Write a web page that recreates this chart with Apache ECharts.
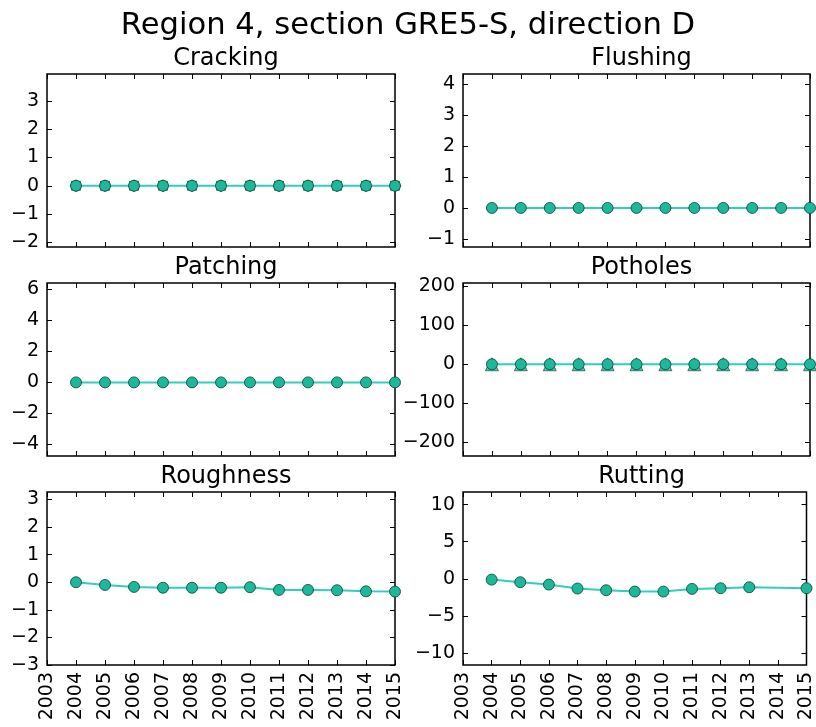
<!DOCTYPE html>
<html><head><meta charset="utf-8">
<script src="https://cdn.jsdelivr.net/npm/echarts@6/dist/echarts.min.js"></script>
<style>html,body{margin:0;padding:0;background:#fff}#c{width:816px;height:727px}</style>
</head><body><div id="c"></div>
<script>
// ---- data ----
const years = [2004, 2005, 2006, 2007, 2008, 2009, 2010, 2011, 2012, 2013, 2014, 2015];
const cracking = [0, 0, 0, 0, 0, 0, 0, 0, 0, 0, 0, 0];
const flushing = [0, 0, 0, 0, 0, 0, 0, 0, 0, 0, 0, 0];
const patching = [0, 0, 0, 0, 0, 0, 0, 0, 0, 0, 0, 0];
const potholes = [0, 0, 0, 0, 0, 0, 0, 0, 0, 0, 0, 0];
const roughness = [0, -0.1, -0.17, -0.2, -0.2, -0.2, -0.18, -0.28, -0.28, -0.29, -0.33, -0.34];
const rutting = [-0.1, -0.45, -0.77, -1.3, -1.53, -1.71, -1.71, -1.35, -1.26, -1.13, null, -1.26];
const panelTitles = ['Cracking', 'Flushing', 'Patching', 'Potholes', 'Roughness', 'Rutting'];
const mainTitle = 'Region 4, section GRE5-S, direction D';
const yMin = [-2.17, -1.26, -4.74, -236, -3, -11.6];
const yMax = [3.96, 4.32, 6.4, 209, 3.27, 11.7];
const yTicks = [
  [-2, -1, 0, 1, 2, 3],
  [-1, 0, 1, 2, 3, 4],
  [-4, -2, 0, 2, 4, 6],
  [-200, -100, 0, 100, 200],
  [-3, -2, -1, 0, 1, 2, 3],
  [-10, -5, 0, 5, 10]
];
const xTicks = [2003, 2004, 2005, 2006, 2007, 2008, 2009, 2010, 2011, 2012, 2013, 2014, 2015];

// ---- layout ----
const colLeft = [47, 463];
const colWidth = [348, 347];
const rowTop = [74, 283, 492];
const rowHeight = 173;
const FONT = 'DejaVu Sans';

const panelData = [cracking, flushing, patching, potholes, roughness, rutting];
const extraShapes = [['rect', 'diamond'], [], [], ['triangle'], [], []];

const grids = [], xAxes = [], yAxes = [], series = [], titles = [];
titles.push({ text: mainTitle, left: 'center', top: 6,
  textStyle: { fontFamily: FONT, fontSize: 30.6, fontWeight: 'normal', color: '#000' } });

const lineColor = '#33cdbb', fill = '#1cb89a', edge = '#0e3f35';
const fmtY = v => (v < 0 ? '\u2212' + String(-v) : String(v));
const tickStyle = { color: '#000', width: 1 };
for (let i = 0; i < 6; i++) {
  const r = Math.floor(i / 2), c = i % 2;
  grids.push({ left: colLeft[c], top: rowTop[r], width: colWidth[c], height: rowHeight,
    show: true, borderColor: '#000', borderWidth: 1.5, backgroundColor: 'transparent' });
  titles.push({ text: panelTitles[i], left: colLeft[c] + colWidth[c] / 2, textAlign: 'center',
    top: rowTop[r] - 32,
    textStyle: { fontFamily: FONT, fontSize: 24, fontWeight: 'normal', color: '#000' } });
  const bottomRow = r === 2;
  ['bottom', 'top'].forEach(pos => {
    xAxes.push({ type: 'value', gridIndex: i, min: xTicks[0], max: xTicks[xTicks.length - 1],
      position: pos, splitLine: { show: false }, axisLine: { show: false, onZero: false },
      axisTick: { show: true, inside: true, length: 5, lineStyle: tickStyle, customValues: xTicks },
      axisLabel: { show: bottomRow && pos === 'bottom', rotate: 90, margin: 7, fontFamily: FONT,
        fontSize: 19, color: '#000', customValues: xTicks, formatter: v => String(v) } });
  });
  ['left', 'right'].forEach(pos => {
    yAxes.push({ type: 'value', gridIndex: i, min: yMin[i], max: yMax[i], position: pos,
      splitLine: { show: false }, axisLine: { show: false, onZero: false },
      axisTick: { show: true, inside: true, length: 5, lineStyle: tickStyle, customValues: yTicks[i] },
      axisLabel: { show: pos === 'left', margin: 8, fontFamily: FONT, fontSize: 19, color: '#000',
        customValues: yTicks[i], formatter: fmtY } });
  });

  const pts = years.map((y, j) => [y, panelData[i][j]]);
  extraShapes[i].forEach(shape => {
    series.push({ type: 'scatter', xAxisIndex: 2 * i, yAxisIndex: 2 * i,
      data: pts.filter(p => p[1] !== null), symbol: shape,
      symbolSize: shape === 'triangle' ? 13 : (shape === 'diamond' ? 12 : 9),
      itemStyle: { color: fill, borderColor: edge, borderWidth: 0.8 }, z: 3, silent: true });
  });
  series.push({ type: 'line', xAxisIndex: 2 * i, yAxisIndex: 2 * i, data: pts,
    connectNulls: true, symbol: 'circle', symbolSize: 11, showAllSymbol: true,
    lineStyle: { color: lineColor, width: 2 },
    itemStyle: { color: fill, borderColor: edge, borderWidth: 0.8 }, z: 4 });
}

const chart = echarts.init(document.getElementById('c'));
chart.setOption({ animation: false, backgroundColor: '#fff', title: titles,
  grid: grids, xAxis: xAxes, yAxis: yAxes, series: series });
</script></body></html>
